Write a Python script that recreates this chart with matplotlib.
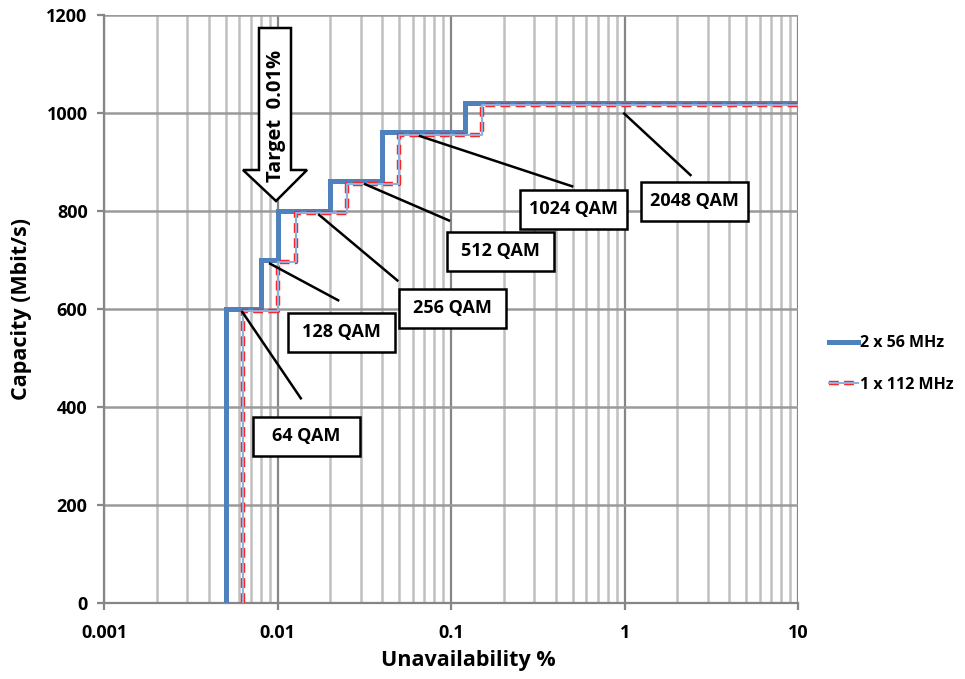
import matplotlib
matplotlib.use("Agg")
import matplotlib.pyplot as plt
from matplotlib.patches import Polygon, Rectangle
import numpy as np

plt.rcParams['font.family'] = ['Open Sans', 'DejaVu Sans']
plt.rcParams['font.weight'] = 'bold'

# ---- data ----
# step edges (unavailability %) and capacities (Mbit/s)
x_2x56 = [0.005, 0.005, 0.008, 0.008, 0.01, 0.01, 0.02, 0.02, 0.04, 0.04, 0.12, 0.12, 10]
y_2x56 = [0, 600, 600, 700, 700, 800, 800, 860, 860, 960, 960, 1020, 1020]
x_1x112 = [0.0063, 0.0063, 0.01, 0.01, 0.0128, 0.0128, 0.025, 0.025, 0.05, 0.05, 0.15, 0.15, 10]
y_1x112 = [0, 595, 595, 695, 695, 795, 795, 855, 855, 955, 955, 1015, 1015]

labels = ["64 QAM", "128 QAM", "256 QAM", "512 QAM", "1024 QAM", "2048 QAM"]
# leader line: anchor on curve (data) -> end near box (data)
lead_start = [(0.0062, 595), (0.0089, 693), (0.0171, 793), (0.0314, 855), (0.065, 953), (0.98, 1000)]
lead_end = [(0.0137, 415), (0.0226, 616), (0.0495, 656), (0.0985, 779), (0.505, 849), (2.42, 871)]
# box centers in axes fraction
box_centers = [(0.2911, 0.2828), (0.3415, 0.4600), (0.5014, 0.5009),
               (0.5706, 0.5980), (0.6758, 0.6695), (0.8501, 0.6831)]

x_ticks = [0.001, 0.01, 0.1, 1, 10]
x_ticklabels = ["0.001", "0.01", "0.1", "1", "10"]
y_ticks = [0, 200, 400, 600, 800, 1000, 1200]

fig = plt.figure(figsize=(9.65, 6.79), dpi=100)
ax = fig.add_axes([104.3/965, 1-602.7/679, (798.3-104.3)/965, (602.7-14.7)/679])

ax.set_xscale('log')
ax.set_xlim(0.001, 10)
ax.set_ylim(0, 1200)

# grid
ax.set_axisbelow(True)
ax.xaxis.grid(True, which='major', color='#868686', lw=1.6)
ax.xaxis.grid(True, which='minor', color='#c0c0c0', lw=1.8)
ax.yaxis.grid(True, which='major', color='#9a9a9a', lw=1.8)

for s in ax.spines.values():
    s.set_visible(False)
for side in ('left', 'bottom'):
    ax.spines[side].set_visible(True)
    ax.spines[side].set_color('#868686')
    ax.spines[side].set_linewidth(1.6)

ax.set_xticks(x_ticks)
ax.set_xticklabels(x_ticklabels)
ax.set_yticks(y_ticks)
ax.tick_params(axis='both', which='major', length=5, width=1.6, color='#868686',
               labelsize=13, pad=7)
ax.tick_params(axis='x', which='minor', length=0)
ax.tick_params(axis='x', pad=10)
for t in ax.get_xticklabels() + ax.get_yticklabels():
    t.set_fontweight('bold')

ax.set_xlabel("Unavailability %", fontsize=15.5, fontweight='bold', labelpad=5)
ax.xaxis.set_label_coords((468-104.3)/694, -0.08)
ax.set_ylabel("Capacity (Mbit/s)", fontsize=15.5, fontweight='bold', labelpad=10)

# series
l1, = ax.plot(x_2x56, y_2x56, color='#4f81bd', lw=3.6, solid_joinstyle='miter', zorder=4)
l2a, = ax.plot(x_1x112, y_1x112, color='#ff2020', lw=3.2, ls=(0, (2.2, 1.2)), zorder=5)
l2b, = ax.plot(x_1x112, y_1x112, color='#8fb0dc', lw=1.5, zorder=6)

# leader lines
for (xs, ys), (xe, ye) in zip(lead_start, lead_end):
    ax.plot([xs, xe], [ys, ye], color='black', lw=1.8, zorder=7, solid_capstyle='butt')

# label boxes
bw, bh = 107/694, 39/588
for lab, (cx, cy) in zip(labels, box_centers):
    ax.add_patch(Rectangle((cx-bw/2, cy-bh/2), bw, bh, transform=ax.transAxes,
                           facecolor='white', edgecolor='black', lw=1.8, zorder=8))
    ax.text(cx, cy, lab, transform=ax.transAxes, ha='center', va='center',
            fontsize=13, fontweight='bold', zorder=9)

# target arrow (axes fraction)
def fx(px):
    return (px-104.3)/694
def fy(py):
    return (602.7-py)/588
arrow = [(fx(259), fy(28)), (fx(291), fy(28)), (fx(291), fy(170)), (fx(307), fy(170)),
         (fx(276), fy(201)), (fx(243), fy(170)), (fx(259), fy(170))]
ax.add_patch(Polygon(arrow, closed=True, transform=ax.transAxes, facecolor='white',
                     edgecolor='black', lw=1.8, zorder=8, joinstyle='miter'))
ax.text(fx(276), fy(116), "Target  0.01%", transform=ax.transAxes, rotation=90,
        ha='center', va='center', fontsize=14.5, fontweight='bold', zorder=9)

# legend
fig.legend([l1, (l2a, l2b)], ["2 x 56 MHz", "1 x 112 MHz"], loc='center left',
           bbox_to_anchor=(815/965, 1-364/679), frameon=False,
           handlelength=1.8, handletextpad=0.1, labelspacing=1.6,
           prop={'weight': 'bold', 'size': 11.5})

fig.savefig("out.png", dpi=100)
